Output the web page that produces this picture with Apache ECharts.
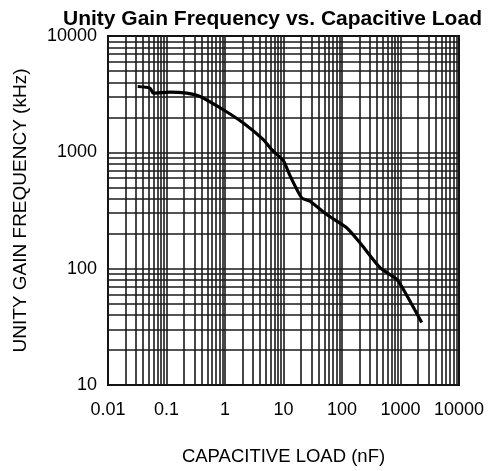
<!DOCTYPE html>
<html>
<head>
<meta charset="utf-8">
<script src="https://cdn.jsdelivr.net/npm/echarts@6/dist/echarts.min.js"></script>
<style>
  html, body { margin: 0; padding: 0; background: #fff; }
  #chart { width: 495px; height: 471px; }
</style>
</head>
<body>
<div id="chart"></div>
<script>
// Capacitive load (nF) and the unity gain frequency (kHz) measured at each load
const loadNF = [0.0322, 0.0522, 0.0594, 0.115, 0.221, 0.374, 0.935, 2.06, 4.52, 6.28, 9.93, 12.9, 20.5, 28.4, 54.7, 120, 203, 447, 861, 1117, 2302];
const ugfKHz = [3680, 3565, 3228, 3294, 3228, 3020, 2323, 1786, 1285, 1054, 849, 631, 406, 380, 292, 225, 167, 102, 81, 66.5, 34.5];

// Axis ranges (log decades)
const xDecades = [0.01, 0.1, 1, 10, 100, 1000, 10000];
const yDecades = [10, 100, 1000, 10000];

// Log-paper grid: a line at every 1..9 multiple inside each decade
function gridValues(decades) {
  const out = [];
  for (let i = 0; i < decades.length - 1; i++) {
    for (let k = 1; k <= 9; k++) out.push(+(decades[i] * k).toPrecision(6));
  }
  out.push(decades[decades.length - 1]);
  return out;
}
const xGrid = gridValues(xDecades);
const yGrid = gridValues(yDecades);

const fmt = v => String(+(+v).toPrecision(6));
const gridStyle = { color: '#1a1a1a', width: 1.6, type: 'solid' };

const chart = echarts.init(document.getElementById('chart'), null, { renderer: 'canvas' });
chart.setOption({
  animation: false,
  backgroundColor: '#fff',
  title: {
    text: 'Unity Gain Frequency vs. Capacitive Load',
    left: 58,
    top: 4,
    textStyle: { fontFamily: 'Liberation Sans', fontWeight: 'bold', fontSize: 21, color: '#000' }
  },
  grid: {
    left: 108, top: 36, width: 351, height: 350,
    show: true, borderColor: '#000', borderWidth: 2, backgroundColor: 'transparent'
  },
  xAxis: {
    type: 'log', logBase: 10, min: 0.01, max: 10000, splitNumber: 6,
    name: 'CAPACITIVE LOAD (nF)', nameLocation: 'middle', nameGap: 62,
    nameTextStyle: { fontFamily: 'Liberation Sans', fontSize: 18.5, color: '#000' },
    axisLine: { show: false }, axisTick: { show: false }, splitLine: { show: false },
    axisLabel: { formatter: fmt, margin: 16, fontFamily: 'Liberation Sans', fontSize: 18, color: '#000' }
  },
  yAxis: {
    type: 'log', logBase: 10, min: 10, max: 10000, splitNumber: 3,
    name: 'UNITY GAIN FREQUENCY (kHz)', nameLocation: 'middle', nameGap: 78,
    nameTextStyle: { fontFamily: 'Liberation Sans', fontSize: 19, color: '#000' },
    axisLine: { show: false }, axisTick: { show: false }, splitLine: { show: false },
    axisLabel: { formatter: fmt, margin: 11, fontFamily: 'Liberation Sans', fontSize: 18, color: '#000' }
  },
  series: [
    {
      name: 'grid',
      type: 'line',
      data: [],
      silent: true,
      z: 1,
      markLine: {
        silent: true,
        symbol: 'none',
        label: { show: false },
        lineStyle: gridStyle,
        animation: false,
        data: xGrid.map(v => ({ xAxis: v })).concat(yGrid.map(v => ({ yAxis: v })))
      }
    },
    {
      name: 'UGF',
      type: 'line',
      z: 5,
      data: loadNF.map((x, i) => [x, ugfKHz[i]]),
      showSymbol: false,
      smooth: 0.2,
      lineStyle: { color: '#000', width: 3.2 }
    }
  ]
});
</script>
</body>
</html>
